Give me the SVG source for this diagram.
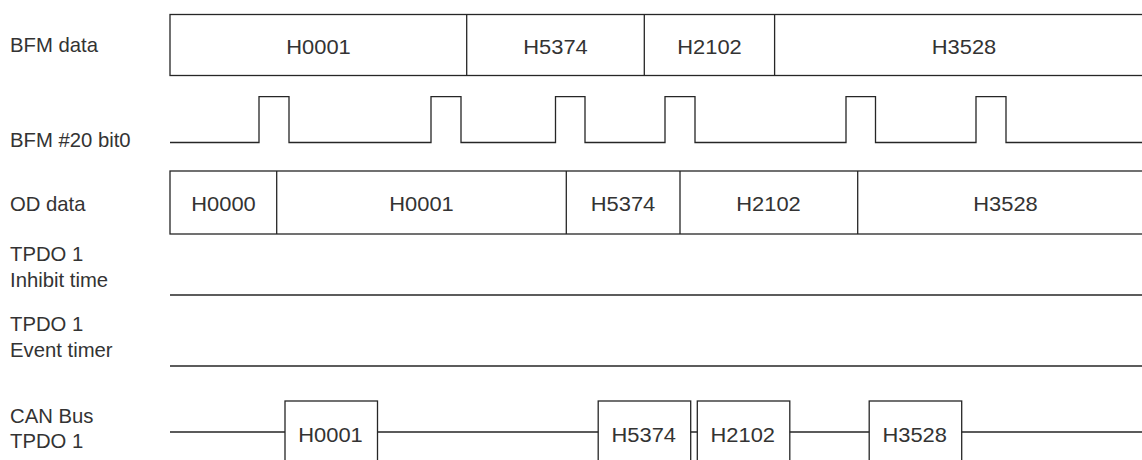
<svg xmlns="http://www.w3.org/2000/svg" width="1142" height="460" viewBox="0 0 1142 460">
<style>
.ln{fill:none;stroke:#262626;stroke-width:1.3}
.bx{fill:#fff;stroke:#262626;stroke-width:1.3}
text{font-family:"Liberation Sans",Arial,sans-serif;font-size:20.3px;fill:#333}
.c{text-anchor:middle}
</style>
<rect width="1142" height="460" fill="#fff"/>
<g id="labels">
<text x="10" y="51.5">BFM data</text>
<text x="10" y="147.3">BFM #20 bit0</text>
<text x="10" y="210.7">OD data</text>
<text x="10" y="260.6">TPDO 1</text>
<text x="10" y="286.7">Inhibit time</text>
<text x="10" y="330.8">TPDO 1</text>
<text x="10" y="357.3">Event timer</text>
<text x="10" y="423.2">CAN Bus</text>
<text x="10" y="448.4">TPDO 1</text>
</g>
<g id="bfm-data">
<rect class="bx" x="170" y="14.5" width="990" height="61"/>
<path class="ln" d="M466.7 14.5V75.5M644.3 14.5V75.5M774.6 14.5V75.5"/>
<text class="c" x="318.5" y="54" textLength="64.5" lengthAdjust="spacingAndGlyphs">H0001</text>
<text class="c" x="555.5" y="54" textLength="64.5" lengthAdjust="spacingAndGlyphs">H5374</text>
<text class="c" x="709.5" y="54" textLength="64.5" lengthAdjust="spacingAndGlyphs">H2102</text>
<text class="c" x="964" y="54" textLength="64.5" lengthAdjust="spacingAndGlyphs">H3528</text>
</g>
<g id="od-data">
<rect class="bx" x="170" y="171" width="990" height="63"/>
<path class="ln" d="M276.7 171V234M566.3 171V234M680 171V234M857.7 171V234"/>
<text class="c" x="223.5" y="210.7" textLength="64.5" lengthAdjust="spacingAndGlyphs">H0000</text>
<text class="c" x="421.5" y="210.7" textLength="64.5" lengthAdjust="spacingAndGlyphs">H0001</text>
<text class="c" x="623" y="210.7" textLength="64.5" lengthAdjust="spacingAndGlyphs">H5374</text>
<text class="c" x="768.5" y="210.7" textLength="64.5" lengthAdjust="spacingAndGlyphs">H2102</text>
<text class="c" x="1005.5" y="210.7" textLength="64.5" lengthAdjust="spacingAndGlyphs">H3528</text>
</g>
<g id="can-bus">
<rect class="bx" x="285" y="401" width="92.5" height="70"/>
<rect class="bx" x="598.2" y="401" width="92.5" height="70"/>
<rect class="bx" x="697.3" y="401" width="92.5" height="70"/>
<rect class="bx" x="869.2" y="401" width="92.5" height="70"/>
<text class="c" x="330.5" y="441.7" textLength="64.5" lengthAdjust="spacingAndGlyphs">H0001</text>
<text class="c" x="643.8" y="441.7" textLength="64.5" lengthAdjust="spacingAndGlyphs">H5374</text>
<text class="c" x="742.8" y="441.7" textLength="64.5" lengthAdjust="spacingAndGlyphs">H2102</text>
<text class="c" x="914.7" y="441.7" textLength="64.5" lengthAdjust="spacingAndGlyphs">H3528</text>
</g>
<g id="connectors">
<path id="bit0" class="ln" d="M170 142.5H259V96.7H289V142.5H431V96.7H461V142.5H555.5V96.7H585V142.5H665V96.7H695V142.5H846V96.7H875.5V142.5H976V96.7H1006V142.5H1142"/>
<path id="inhibit" class="ln" d="M170 295H1142"/>
<path id="event" class="ln" d="M170 366H1142"/>
<path id="can" class="ln" d="M170 432H285M377.5 432H598.2M690.7 432H697.3M789.8 432H869.2M961.7 432H1142"/>
</g>
</svg>
